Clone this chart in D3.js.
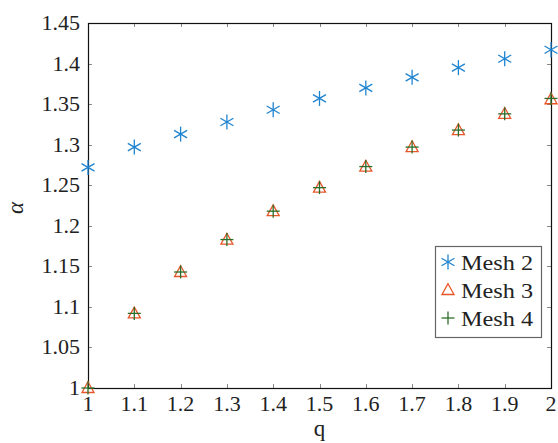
<!DOCTYPE html>
<html><head><meta charset="utf-8">
<script src="https://cdn.jsdelivr.net/npm/d3@7"></script>
<style>body{margin:0;background:#fff}svg{display:block}text{font-family:"Liberation Serif","Times New Roman","DejaVu Serif",serif;fill:#222}</style>
</head><body><svg id="c" width="558" height="443"></svg>
<script>
const qValues = [1.0,1.1,1.2,1.3,1.4,1.5,1.6,1.7,1.8,1.9,2.0];
const mesh2 = [1.272,1.297,1.313,1.328,1.343,1.357,1.370,1.383,1.395,1.406,1.417];
const mesh3 = [1.000,1.092,1.143,1.183,1.218,1.247,1.273,1.297,1.318,1.338,1.356];
const mesh4 = [1.000,1.092,1.143,1.183,1.218,1.247,1.273,1.297,1.318,1.338,1.357];
const xTicks = [1,1.1,1.2,1.3,1.4,1.5,1.6,1.7,1.8,1.9,2];
const yTicks = [1,1.05,1.1,1.15,1.2,1.25,1.3,1.35,1.4,1.45];
const seriesNames = ["Mesh 2","Mesh 3","Mesh 4"];
const colors = ["#1f84d0","#e8562a","#2a6e2a"];

const svg = d3.select("#c");
const L=88,R=551,T=23,B=388;
const x = d3.scaleLinear().domain([1,2]).range([L,R]);
const y = d3.scaleLinear().domain([1,1.45]).range([B,T]);
const fmt = d=>String(+d.toFixed(2));

const tk = svg.append("g").attr("stroke","#888").attr("stroke-width",1);
xTicks.forEach(t=>{
  const px=Math.round(x(t))+0.5;
  tk.append("line").attr("x1",px).attr("x2",px).attr("y1",B).attr("y2",B-4);
  tk.append("line").attr("x1",px).attr("x2",px).attr("y1",T).attr("y2",T+4);
});
yTicks.forEach(t=>{
  const py=Math.round(y(t))+0.5;
  tk.append("line").attr("x1",L).attr("x2",L+4).attr("y1",py).attr("y2",py);
  tk.append("line").attr("x1",R).attr("x2",R-4).attr("y1",py).attr("y2",py);
});
svg.append("rect").attr("x",L+0.5).attr("y",T+0.5).attr("width",R-L).attr("height",B-T)
  .attr("fill","none").attr("stroke","#111").attr("stroke-width",1.2);

svg.append("g").selectAll("text").data(xTicks).join("text")
  .attr("x",d=>x(d)).attr("y",411).attr("text-anchor","middle").attr("font-size",22).text(fmt);
svg.append("g").selectAll("text").data(yTicks).join("text")
  .attr("x",80).attr("y",d=>y(d)+7).attr("text-anchor","end").attr("font-size",22).text(fmt);

svg.append("text").attr("x",x(1.5)).attr("y",436).attr("text-anchor","middle").attr("font-size",23).text("q");
svg.append("text").attr("transform","translate(23,208) rotate(-90)").attr("text-anchor","middle").attr("font-size",23).attr("font-style","italic").text("α");

function asterisk(g,cx,cy,r,c){
  [90,30,150].forEach(a=>{
    const rad=a*Math.PI/180, dx=r*Math.cos(rad), dy=r*Math.sin(rad);
    g.append("line").attr("x1",cx-dx).attr("y1",cy-dy).attr("x2",cx+dx).attr("y2",cy+dy)
      .attr("stroke",c).attr("stroke-width",1.3);
  });
}
function triangle(g,cx,cy,r,c){
  const h=r*1.0;
  g.append("path").attr("d",`M${cx},${cy-h*1.05}L${cx+r},${cy+h*0.75}L${cx-r},${cy+h*0.75}Z`)
    .attr("fill","none").attr("stroke",c).attr("stroke-width",1.3);
}
function plus(g,cx,cy,r,c){
  g.append("line").attr("x1",cx-r).attr("x2",cx+r).attr("y1",cy).attr("y2",cy).attr("stroke",c).attr("stroke-width",1.3);
  g.append("line").attr("x1",cx).attr("x2",cx).attr("y1",cy-r).attr("y2",cy+r).attr("stroke",c).attr("stroke-width",1.3);
}
const drawers=[asterisk,triangle,plus];
const sizes=[7.5,6,6.5];
const data=[mesh2,mesh3,mesh4];
const pg = svg.append("g");
data.forEach((s,i)=>{
  s.forEach((v,j)=>drawers[i](pg,x(qValues[j]),y(v),sizes[i],colors[i]));
});

const lg = svg.append("g");
lg.append("rect").attr("x",435.5).attr("y",246.5).attr("width",106).attr("height",91)
  .attr("fill","#fff").attr("stroke","#666").attr("stroke-width",1.2);
seriesNames.forEach((n,i)=>{
  const cy=262+i*28;
  drawers[i](lg,448,cy,sizes[i],colors[i]);
  lg.append("text").attr("x",461).attr("y",cy+7.5).attr("font-size",22)
    .attr("textLength",72).attr("lengthAdjust","spacingAndGlyphs").text(n);
});
</script></body></html>
